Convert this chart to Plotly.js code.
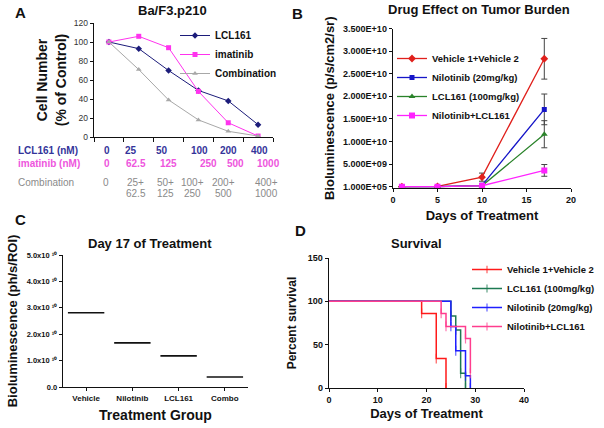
<!DOCTYPE html>
<html><head><meta charset="utf-8">
<script src="https://cdn.plot.ly/plotly-3.0.1.min.js"></script>
<style>html,body{margin:0;padding:0;background:#fff}#chart{width:604px;height:428px}</style>
</head><body><div id="chart"></div>
<script>
// ---------- Panel A: Ba/F3.p210 ----------
const aLclDoses = ['0','25','50','100','200','400'];
const aImaDoses = ['0','62.5','125','250','500','1000'];
const aComboTop = ['0','25+','50+','100+','200+','400+'];
const aComboBottom = ['','62.5','125','250','500','1000'];
const aLcl161 = [100,93,70,49,38,13];
const aImatinib = [100,106,94,48,15,1];
const aCombination = [100,71,39,18,6,1];
const aTicks = [0,20,40,60,80,100,120];

// ---------- Panel B: Drug effect on tumor burden ----------
const bDays = [1,5,10,17];
const bVehicle = [0,0.05e9,2.1e9,28.3e9];
const bVehicleErr = [0,0,0.9e9,4.5e9];
const bNilotinib = [0,0,0.3e9,17.1e9];
const bNilotinibErr = [0,0,0.1e9,3.4e9];
const bLcl161 = [0,0,0.2e9,11.6e9];
const bLcl161Err = [0,0,0.1e9,3.0e9];
const bCombo = [0,0,0.2e9,3.6e9];
const bComboErr = [0,0,0.1e9,1.3e9];
const bTickVals = [0,5e9,1e10,1.5e10,2e10,2.5e10,3e10,3.5e10];
const bTickText = ['1.000E+05','5.000E+09','1.000E+10','1.500E+10','2.000E+10','2.500E+10','3.000E+10','3.500E+10'];

// ---------- Panel C: Day 17 ----------
const cGroups = ['Vehicle','Nilotinib','LCL161','Combo'];
const cMeans = [2.81e10,1.67e10,1.18e10,0.38e10];
const cTickVals = [0,1e10,2e10,3e10,4e10,5e10];
const cTickText = ['0.0','1.0x10 \u00b9\u2070','2.0x10 \u00b9\u2070','3.0x10 \u00b9\u2070','4.0x10 \u00b9\u2070','5.0x10 \u00b9\u2070'];

// ---------- Panel D: Survival ----------
const dVehicleDays = [0,19,22,24];
const dVehicleSurv = [100,86,34,0];
const dLclDays = [0,25,26,27,28];
const dLclSurv = [100,83,67,17,0];
const dNiloDays = [0,25,26,28,29];
const dNiloSurv = [100,71,43,14,0];
const dComboDays = [0,23,24,28,29];
const dComboSurv = [100,86,71,57,17];

const FONT = 'Liberation Sans, Arial, sans-serif';
const W = 604, H = 428;
const px = v => v / W;
const py = v => 1 - v / H;

const aIdx = aLclDoses.map((_, i) => i);
// hide the tick at the start point of each survival curve
const tickSizes = arr => arr.map((_, i) => (i === 0 ? 0 : 7));

const traces = [
  // A
  {x: aIdx, y: aLcl161, name: 'LCL161', xaxis: 'x', yaxis: 'y', legend: 'legend', mode: 'lines+markers',
   line: {color: '#1c1c7a', width: 1}, marker: {symbol: 'diamond', size: 5, color: '#1c1c7a'}},
  {x: aIdx, y: aImatinib, name: 'imatinib', xaxis: 'x', yaxis: 'y', legend: 'legend', mode: 'lines+markers',
   line: {color: '#ff33ee', width: 1}, marker: {symbol: 'square', size: 5, color: '#ff33ee'}},
  {x: aIdx, y: aCombination, name: 'Combination', xaxis: 'x', yaxis: 'y', legend: 'legend', mode: 'lines+markers',
   line: {color: '#a8a8a8', width: 1}, marker: {symbol: 'triangle-up', size: 5, color: '#a8a8a8'}},
  // B
  {x: bDays, y: bVehicle, name: 'Vehicle 1+Vehicle 2', xaxis: 'x2', yaxis: 'y2', legend: 'legend2', mode: 'lines+markers',
   line: {color: '#e0201c', width: 1.3}, marker: {symbol: 'diamond', size: 6, color: '#e0201c'},
   error_y: {type: 'data', array: bVehicleErr, color: '#444', thickness: 1, width: 3}},
  {x: bDays, y: bNilotinib, name: 'Nilotinib (20mg/kg)', xaxis: 'x2', yaxis: 'y2', legend: 'legend2', mode: 'lines+markers',
   line: {color: '#1616c8', width: 1.3}, marker: {symbol: 'square', size: 5, color: '#1616c8'},
   error_y: {type: 'data', array: bNilotinibErr, color: '#444', thickness: 1, width: 3}},
  {x: bDays, y: bLcl161, name: 'LCL161 (100mg/kg)', xaxis: 'x2', yaxis: 'y2', legend: 'legend2', mode: 'lines+markers',
   line: {color: '#2a832a', width: 1.3}, marker: {symbol: 'triangle-up', size: 6, color: '#2a832a'},
   error_y: {type: 'data', array: bLcl161Err, color: '#444', thickness: 1, width: 3}},
  {x: bDays, y: bCombo, name: 'Nilotinib+LCL161', xaxis: 'x2', yaxis: 'y2', legend: 'legend2', mode: 'lines+markers',
   line: {color: '#ff22ff', width: 1.3}, marker: {symbol: 'square', size: 6, color: '#ff22ff'},
   error_y: {type: 'data', array: bComboErr, color: '#444', thickness: 1, width: 3}},
  // C
  {x: cGroups, y: cMeans, name: 'Mean', xaxis: 'x3', yaxis: 'y3', showlegend: false, mode: 'markers',
   marker: {symbol: 'line-ew', size: 26, color: '#111', line: {color: '#111', width: 1.6}}},
  // D
  {x: dVehicleDays, y: dVehicleSurv, name: 'Vehicle 1+Vehicle 2', xaxis: 'x4', yaxis: 'y4', legend: 'legend3', mode: 'lines+markers',
   line: {color: '#ff1a1a', width: 1.5, shape: 'hv'}, marker: {symbol: 'line-ns', size: tickSizes(dVehicleDays), color: '#ff1a1a', line: {color: '#ff1a1a', width: 1.2}}},
  {x: dLclDays, y: dLclSurv, name: 'LCL161 (100mg/kg)', xaxis: 'x4', yaxis: 'y4', legend: 'legend3', mode: 'lines+markers',
   line: {color: '#1d7a52', width: 1.5, shape: 'hv'}, marker: {symbol: 'line-ns', size: tickSizes(dLclDays), color: '#1d7a52', line: {color: '#1d7a52', width: 1.2}}},
  {x: dNiloDays, y: dNiloSurv, name: 'Nilotinib (20mg/kg)', xaxis: 'x4', yaxis: 'y4', legend: 'legend3', mode: 'lines+markers',
   line: {color: '#1f1fff', width: 1.5, shape: 'hv'}, marker: {symbol: 'line-ns', size: tickSizes(dNiloDays), color: '#1f1fff', line: {color: '#1f1fff', width: 1.2}}},
  {x: dComboDays, y: dComboSurv, name: 'Nilotinib+LCL161', xaxis: 'x4', yaxis: 'y4', legend: 'legend3', mode: 'lines+markers',
   line: {color: '#ff3d8e', width: 1.5, shape: 'hv'}, marker: {symbol: 'line-ns', size: tickSizes(dComboDays), color: '#ff3d8e', line: {color: '#ff3d8e', width: 1.2}}}
];

const axBase = {showline: true, linecolor: '#111', linewidth: 1.3, showgrid: false, zeroline: false,
  ticks: 'outside', ticklen: 3, tickcolor: '#111', tickwidth: 1};
const bold = (size, color) => ({family: FONT, size: size, color: color || '#111', weight: 'bold'});

const annotations = [];
function ann(text, x, y, font, extra) {
  annotations.push(Object.assign({text: text, x: x, y: y, xref: 'paper', yref: 'paper', showarrow: false,
    xanchor: 'center', yanchor: 'middle', font: font}, extra || {}));
}
// panel titles and letters
ann('Ba/F3.p210', px(172), py(11), bold(13));
ann('Drug Effect on Tumor Burden', px(479), py(10), bold(13));
ann('Day 17 of Treatment', px(150), py(244), bold(13));
ann('Survival', px(416), py(244), bold(13));
ann('A', px(20), py(12), bold(15));
ann('B', px(297), py(13), bold(15));
ann('C', px(20), py(219), bold(15));
ann('D', px(300), py(230), bold(15));
// dose table under panel A
const lclShift = [-2,-8,-7,1,0,1];
const imaShift = [-2,-3,0,10,7,10];
const comboShift = [-3,-3,-3,-6,-5,8];
ann('LCL161 (nM)', px(16), py(150), bold(10, '#34349a'), {xanchor: 'left'});
ann('imatinib (nM)', px(16), py(164), bold(10, '#ee55dd'), {xanchor: 'left'});
ann('Combination', px(16), py(182), {family: FONT, size: 10, color: '#8a8a8a'}, {xanchor: 'left'});
aIdx.forEach(i => {
  annotations.push({text: aLclDoses[i], x: i, xref: 'x', y: py(150), yref: 'paper', xshift: lclShift[i], showarrow: false,
    font: bold(10, '#34349a'), xanchor: 'center', yanchor: 'middle'});
  annotations.push({text: aImaDoses[i], x: i, xref: 'x', y: py(164), yref: 'paper', xshift: imaShift[i], showarrow: false,
    font: bold(10, '#ee55dd'), xanchor: 'center', yanchor: 'middle'});
  annotations.push({text: aComboTop[i], x: i, xref: 'x', y: py(182), yref: 'paper', xshift: comboShift[i], showarrow: false,
    font: {family: FONT, size: 10, color: '#8a8a8a'}, xanchor: 'center', yanchor: 'middle'});
  if (aComboBottom[i]) annotations.push({text: aComboBottom[i], x: i, xref: 'x', y: py(193), yref: 'paper', xshift: comboShift[i], showarrow: false,
    font: {family: FONT, size: 10, color: '#8a8a8a'}, xanchor: 'center', yanchor: 'middle'});
});

const legBase = {bgcolor: 'rgba(0,0,0,0)', borderwidth: 0, xanchor: 'left', yanchor: 'top', itemwidth: 30, tracegroupgap: 0};

const layout = {
  width: W, height: H, margin: {l: 0, r: 0, t: 0, b: 0},
  paper_bgcolor: '#fff', plot_bgcolor: '#fff',
  font: {family: FONT, size: 9, color: '#111'},
  xaxis: Object.assign({}, axBase, {domain: [px(94), px(273)], range: [-0.5, 5.5], tickvals: [-0.5,0.5,1.5,2.5,3.5,4.5,5.5],
    showticklabels: false, anchor: 'y', ticklen: 4}),
  yaxis: Object.assign({}, axBase, {domain: [py(137), py(23)], range: [0, 120], tickvals: aTicks, anchor: 'x',
    tickfont: {family: FONT, size: 8.5, color: '#333'},
    title: {text: 'Cell Number<br>(% of Control)', font: bold(14), standoff: 4}}),
  xaxis2: Object.assign({}, axBase, {domain: [px(393), px(571)], range: [0, 20], tickvals: [0,5,10,15,20], anchor: 'y2',
    tickfont: bold(9),
    title: {text: 'Days of Treatment', font: bold(13), standoff: 6}}),
  yaxis2: Object.assign({}, axBase, {domain: [py(188), py(28.5)], range: [-0.3e9, 3.5e10], tickvals: bTickVals, ticktext: bTickText,
    anchor: 'x2', tickfont: bold(9),
    title: {text: 'Bioluminescence (p/s/cm2/sr)', font: bold(13), standoff: 5}}),
  xaxis3: Object.assign({}, axBase, {domain: [px(63), px(248)], type: 'category', range: [-0.5, 3.5], anchor: 'y3',
    tickfont: bold(8),
    title: {text: 'Treatment Group', font: bold(14), standoff: 8}}),
  yaxis3: Object.assign({}, axBase, {domain: [py(387), py(255)], range: [0, 5e10], tickvals: cTickVals, ticktext: cTickText,
    anchor: 'x3', tickfont: bold(7.5),
    title: {text: 'Bioluminescence (ph/s/ROI)', font: bold(13), standoff: 6}}),
  xaxis4: Object.assign({}, axBase, {domain: [px(329), px(524)], range: [0, 40], tickvals: [0,10,20,30,40], anchor: 'y4',
    tickfont: bold(9),
    title: {text: 'Days of Treatment', font: bold(13), standoff: 4}}),
  yaxis4: Object.assign({}, axBase, {domain: [py(388), py(258)], range: [0, 150], tickvals: [0,50,100,150], anchor: 'x4',
    tickfont: bold(9),
    title: {text: 'Percent survival', font: bold(12), standoff: 8}}),
  legend: Object.assign({}, legBase, {x: px(175), y: py(21), font: bold(10)}),
  legend2: Object.assign({}, legBase, {x: px(392), y: py(44), font: bold(9.5)}),
  legend3: Object.assign({}, legBase, {x: px(467), y: py(255), font: bold(9.5)}),
  annotations: annotations,
  showlegend: true
};

Plotly.newPlot('chart', traces, layout, {staticPlot: true, displayModeBar: false});
</script>
</body></html>
